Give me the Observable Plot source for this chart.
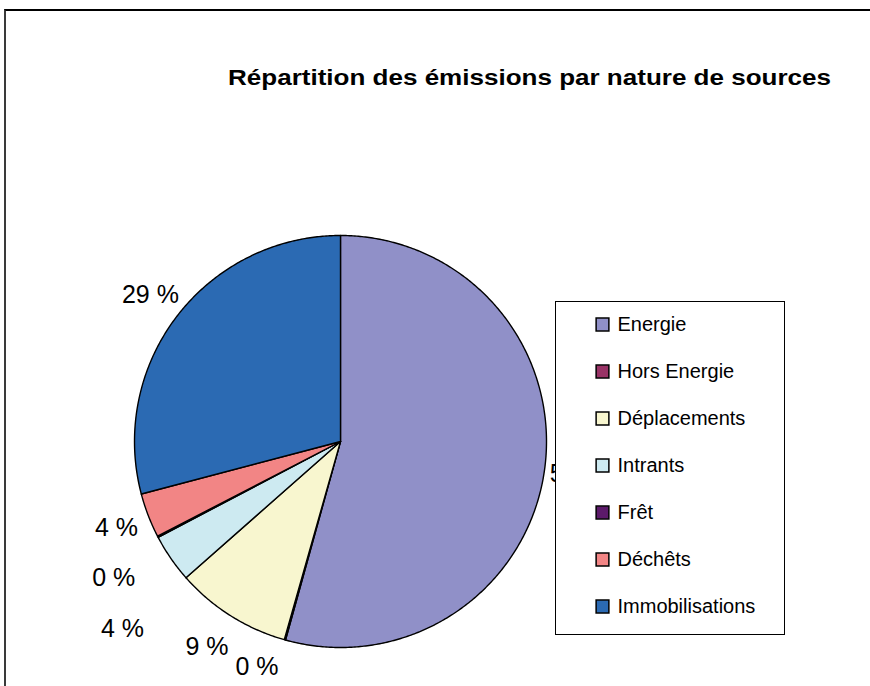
<!DOCTYPE html>
<html><head><meta charset="utf-8">
<script src="https://cdn.jsdelivr.net/npm/d3@7"></script>
<script src="https://cdn.jsdelivr.net/npm/@observablehq/plot@0.6"></script>
<style>
body{margin:0;background:#fff;}
#wrap{position:relative;width:870px;height:686px;overflow:hidden;background:#fff;font-family:"Liberation Sans",Arial,sans-serif;}
#chart{position:absolute;left:0;top:0;}
#frame{position:absolute;left:4px;top:9px;width:900px;height:700px;border-top:2px solid #000;border-left:2px solid #3a3a3a;pointer-events:none;}
#title{position:absolute;left:228px;top:67px;font:bold 22px "Liberation Sans",Arial,sans-serif;line-height:22px;white-space:nowrap;transform-origin:0 0;color:#000;}
#legend{position:absolute;left:555px;top:301px;width:230px;height:334px;border:1px solid #000;background:#fff;box-sizing:border-box;}
</style></head>
<body><div id="wrap"><div id="chart"></div><div id="title"></div><div id="legend"></div><div id="frame"></div></div>
<script>
const title = "Répartition des émissions par nature de sources";
const categories = ["Energie","Hors Energie","Déplacements","Intrants","Frêt","Déchêts","Immobilisations"];
const values = [54.3, 0.1, 9.1, 3.8, 0.1, 3.5, 29.1];
const colors = ["#9090C8","#993366","#F8F6CF","#CDEAF1","#5C1A6A","#F28585","#2B6AB3"];

const FONT = '"Liberation Sans", Arial, sans-serif';
const R = 206, cx = 340, cy = 441, labelR = 240, maxLabelY = 666;
const total = d3.sum(values);

// slices
let cum = 0;
const slices = categories.map((name, i) => {
  const a0 = cum / total * 2 * Math.PI;
  cum += values[i];
  const a1 = cum / total * 2 * Math.PI;
  return {name, v: values[i], a0, a1, mid: (a0 + a1) / 2, label: Math.round(values[i] / total * 100) + " %"};
});

// pie polygons in unit coordinates
const piePts = [];
for (const s of slices) {
  piePts.push({name: s.name, x: 0, y: 0});
  const n = Math.max(2, Math.ceil((s.a1 - s.a0) / (Math.PI / 360)));
  for (let k = 0; k <= n; k++) {
    const a = s.a0 + (s.a1 - s.a0) * k / n;
    piePts.push({name: s.name, x: Math.sin(a), y: Math.cos(a)});
  }
  piePts.push({name: s.name, x: 0, y: 0});
}

// label placement with simple collision avoidance
const ctx = document.createElement("canvas").getContext("2d");
ctx.font = "25px " + FONT;
const cand = slices.map(s => {
  const w = ctx.measureText(s.label).width;
  let px = cx + labelR * Math.sin(s.mid), py = cy - labelR * Math.cos(s.mid);
  let clamped = false;
  if (py > maxLabelY) {
    py = maxLabelY;
    px = cx + Math.sign(Math.sin(s.mid)) * Math.sqrt(labelR * labelR - (py - cy) * (py - cy));
    clamped = true;
  }
  return {s, w, px, py, clamped, mid: s.mid, label: s.label};
});
const placed = cand.filter(c => c.clamped);
const rest = cand.filter(c => !c.clamped).sort((a, b) => b.mid - a.mid);
const hit = c => placed.find(p => Math.abs(p.px - c.px) < (p.w + c.w) / 2 + 6 && Math.abs(p.py - c.py) < 50);
for (const c of rest) {
  let it = 0, h;
  while ((h = hit(c)) && it++ < 300) {
    const sign = h.mid > c.mid ? -1 : 1;
    const rx = Math.sin(c.mid), ry = -Math.cos(c.mid);
    const tx = sign * Math.cos(c.mid), ty = sign * Math.sin(c.mid);
    let dx = 1.5 * rx + tx, dy = 1.5 * ry + ty;
    const len = Math.hypot(dx, dy);
    c.px += dx / len; c.py += dy / len;
  }
  placed.push(c);
}
const labels = placed.map(c => ({label: c.label, x: (c.px - cx) / R, y: (cy - c.py) / R}));

const chart = Plot.plot({
  width: 870, height: 686, margin: 0,
  style: {background: "transparent", fontFamily: FONT},
  x: {domain: [-1, 1], range: [cx - R, cx + R], axis: null},
  y: {domain: [-1, 1], range: [cy + R, cy - R], axis: null},
  color: {domain: categories, range: colors},
  marks: [
    Plot.line(piePts, {x: "x", y: "y", z: "name", fill: "name", stroke: "#000", strokeWidth: 1.4, strokeLinejoin: "round"}),
    Plot.text(labels, {x: "x", y: "y", text: "label", fontSize: 25, fill: "#000", textAnchor: "middle", lineAnchor: "middle"})
  ]
});
document.getElementById("chart").appendChild(chart);

// title
const t = document.getElementById("title");
t.textContent = title;
ctx.font = "bold 22px " + FONT;
const tw = ctx.measureText(title).width;
t.style.transform = `scaleX(${603 / tw})`;

// legend
const legend = Plot.plot({
  width: 228, height: 332, margin: 0,
  style: {background: "transparent", fontFamily: FONT},
  y: {type: "point", domain: categories, range: [22, 304], padding: 0, axis: null},
  color: {domain: categories, range: colors},
  marks: [
    Plot.dot(categories, {y: d => d, frameAnchor: "left", dx: 46, symbol: "square", r: 7.2, fill: d => d, stroke: "#000", strokeWidth: 1.5}),
    Plot.text(categories, {y: d => d, text: d => d, frameAnchor: "left", dx: 61, textAnchor: "start", lineAnchor: "middle", fontSize: 20, fill: "#000"})
  ]
});
document.getElementById("legend").appendChild(legend);
</script>
</body></html>
